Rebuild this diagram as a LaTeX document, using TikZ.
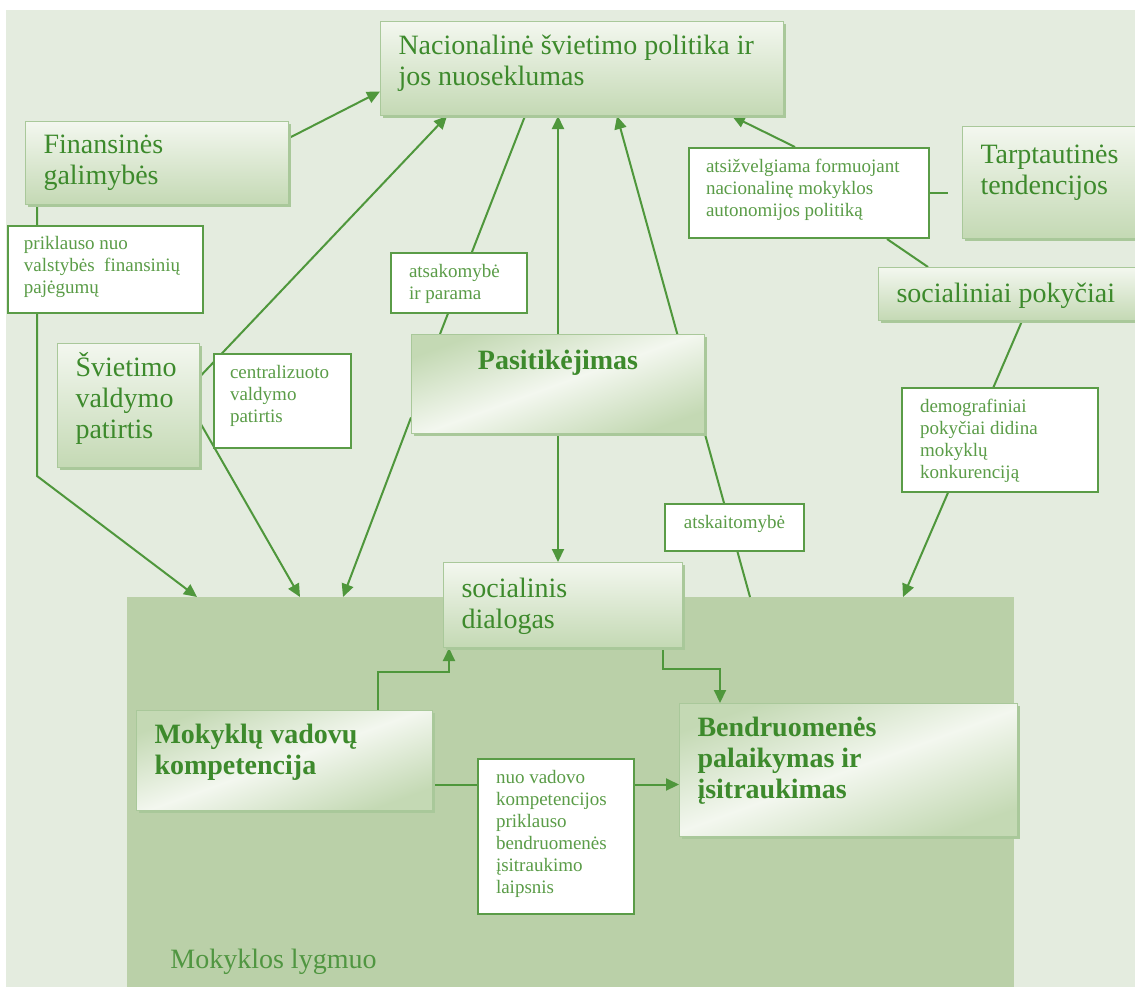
\documentclass[tikz,border=0pt]{standalone}
\usepackage{fontspec}
\setmainfont{Liberation Serif}
\usetikzlibrary{arrows.meta, positioning, shadows}
\definecolor{lvbg}{HTML}{E4ECDF}
\definecolor{lvschool}{HTML}{BAD0A8}
\definecolor{lvline}{HTML}{4F973C}
\definecolor{lvtext}{HTML}{3D8A2C}
\definecolor{lvlabel}{HTML}{5A9C47}
\definecolor{lvbox}{HTML}{C4D9B4}
\definecolor{lvtop}{HTML}{F3F7EF}
\definecolor{lvedge}{HTML}{A9C89A}
\pgfdeclarelayer{back}
\pgfdeclarelayer{mid}
\pgfsetlayers{back,mid,main}

\begin{document}
\begin{tikzpicture}[x=0.5pt, y=-0.5pt,
    topic/.style={rectangle, draw=lvedge, line width=0.5pt, top color=lvtop, bottom color=lvbox, drop shadow={shadow xshift=1pt, shadow yshift=-1.2pt, fill=lvedge, opacity=1}, inner xsep=9pt, inner ysep=0pt, anchor=north west, text=lvtext, font=\fontsize{14}{15.5}\selectfont#1, execute at begin node={\spaceskip=0pt\xspaceskip=0pt\relax}},
    topic/.default={},
    gloss/.style={top color=lvbox, bottom color=lvbox, middle color=lvtop, shading angle=20},
    note/.style={rectangle, draw=lvlabel, line width=1pt, fill=white, inner xsep=9pt, inner ysep=0pt, anchor=north west, text=lvlabel, font=\fontsize{9.5}{11}\selectfont, execute at begin node={\spaceskip=0pt\xspaceskip=0pt\relax}},
    mid/.style={execute at begin node=\centering},
    vfit/.style 2 args={text height=#1, text depth=#2},
    arrow/.style={-{Triangle[length=6.5pt, width=6pt]}, line width=1pt, draw=lvline},
    link/.style={line width=1pt, draw=lvline}
]
\useasboundingbox (0,0) rectangle (1135,987);

\begin{pgfonlayer}{back}
\fill[lvbg] (6,10) rectangle (1135,987);
\node[rectangle, fill=lvschool, inner sep=0pt, anchor=north west, minimum width=443.5pt, minimum height=195pt] (school) at (127,597) {};
\end{pgfonlayer}

% main topics
\node[topic, text width=183.5pt, vfit={16.5pt}{30.5pt}] (nat) at (380,21) {Nacionalinė švietimo politika ir\\jos nuoseklumas};
\node[topic, text width=113.5pt, vfit={16pt}{25.5pt}] (fin) at (25,121) {Finansinės\\galimybės};
\node[topic, text width=76pt, vfit={18.5pt}{37.5pt}] (tarp) at (962,126) {Tarptautinės\\tendencijos};
\node[topic, text width=118pt, vfit={17.5pt}{9pt}] (soc) at (878,267) {socialiniai pokyčiai};
\node[topic, text width=53pt, vfit={16.5pt}{45.5pt}] (svie) at (57,343) {Švietimo\\valdymo\\patirtis};
\node[topic=\bfseries, gloss, mid, text width=128.5pt, vfit={17.5pt}{32pt}] (pas) at (411,334) {Pasitikėjimas};
\node[topic, text width=101.5pt, vfit={17.5pt}{25pt}] (dial) at (443,562) {socialinis\\dialogas};
\node[topic=\bfseries, gloss, text width=130pt, vfit={16.5pt}{33.5pt}] (mok) at (136,710) {Mokyklų vadovų\\kompetencija};
\node[topic=\bfseries, gloss, text width=151pt, vfit={16.5pt}{50pt}] (bend) at (679,703) {Bendruomenės\\palaikymas ir\\įsitraukimas};

% link labels
\node[note, inner xsep=8pt, text width=81.5pt, vfit={11.5pt}{32pt}] (prik) at (7,225) {priklauso nuo\\valstybės\ \ finansinių\\pajėgumų};
\node[note, inner xsep=8pt, text width=52.5pt, vfit={12pt}{35pt}] (cent) at (213,353) {centralizuoto\\valdymo\\patirtis};
\node[note, text width=50pt, vfit={12pt}{18pt}] (atsak) at (390,252) {atsakomybė\\ir parama};
\node[note, inner xsep=8.5pt, text width=103pt, vfit={12.25pt}{32.75pt}] (atsiz) at (688,147) {atsižvelgiama formuojant\\nacionalinę mokyklos\\autonomijos politiką};
\node[note, text width=80pt, vfit={12.25pt}{39.75pt}] (demo) at (901,387) {demografiniai\\pokyčiai didina\\mokyklų\\konkurenciją};
\node[note, mid, text width=51.5pt, vfit={12.25pt}{11.25pt}] (atskai) at (664,503) {atskaitomybė};
\node[note, text width=60pt, vfit={12.25pt}{65.25pt}] (nuo) at (477,758) {nuo vadovo\\kompetencijos\\priklauso\\bendruomenės\\įsitraukimo\\laipsnis};

\node[anchor=base west, inner sep=0pt, text=lvtext!90, font=\fontsize{14}{15.5}\selectfont] (level) at (170,968) {Mokyklos lygmuo};

% connectors
\begin{pgfonlayer}{mid}
\draw[arrow] ([yshift=12.5pt]fin.east) -- ([yshift=-11.5pt]nat.west);
\draw[arrow] ([yshift=14.5pt]svie.east) -- ([xshift=33.5pt]nat.south west);
\draw[arrow] ([yshift=-8.5pt]svie.east) -- ([xshift=86.5pt]school.north west);
\draw[arrow] ([xshift=6pt]fin.south west) -- ++(0,271) -- ([xshift=35pt]school.north west);
\draw[link] ([xshift=72.5pt]nat.south west) -- ([xshift=14.5pt]pas.north west);
\draw[arrow] (pas.north) -- (pas.north |- nat.south);
\draw[arrow] (pas.south) -- (pas.south |- dial.north);
\draw[arrow] ([yshift=-16.75pt]pas.west) -- ([xshift=108pt]school.north west);
\draw[arrow] ([xshift=311.5pt]school.north west) -- ([xshift=118.5pt]nat.south west);
\draw[arrow] ([xshift=53.5pt]atsiz.north west) -- ([xshift=-26pt]nat.south east);
\draw[link] ([xshift=-4.5pt]atsiz.east) -- ([xshift=-7pt]atsiz.east -| tarp.west);
\draw[link] ([xshift=25pt]soc.north west) -- ([xshift=99.5pt]atsiz.south west);
\draw[arrow] ([xshift=72pt]soc.south west) -- ([xshift=388pt]school.north west);
\draw[arrow] ([xshift=121pt]mok.north west) -- ++(0,-38) -| ([xshift=3pt]dial.south west);
\draw[arrow] ([xshift=-10pt]dial.south east) -- ++(0,21) -| ([xshift=20.5pt]bend.north west);
\draw[arrow] ([yshift=-12pt]mok.east) -- ([yshift=-12pt]mok.east -| bend.west);
\end{pgfonlayer}

\end{tikzpicture}
\end{document}
